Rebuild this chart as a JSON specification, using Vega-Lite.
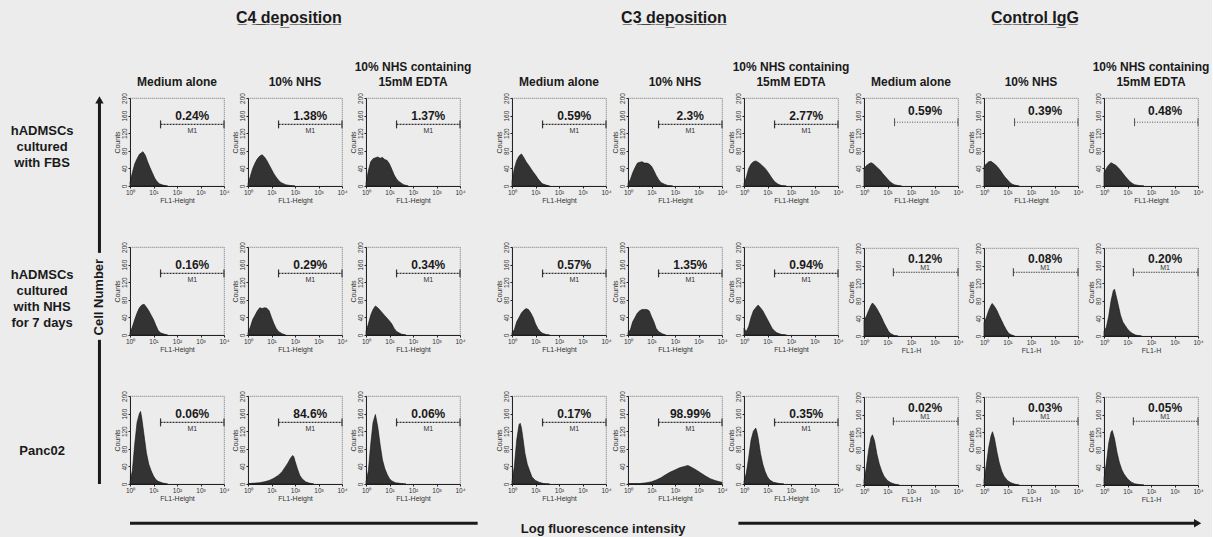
{
"$schema": "https://vega.github.io/schema/vega-lite/v6.json",
"background": "#ececec",
"padding": {"left": 10, "top": 10, "right": 2, "bottom": 2},
"config": {
  "font": "Liberation Sans",
  "view": {"stroke": "#555", "strokeDash": [1, 1], "strokeWidth": 0.8},
  "axis": {"grid": false, "labelFontSize": 6.5, "titleFontSize": 7, "titleFontWeight": "normal", "labelColor": "#333", "titleColor": "#333", "domainColor": "#222", "tickColor": "#222", "tickSize": 2, "labelPadding": 1, "titlePadding": 1, "labelOverlap": false, "labelFlush": false},
  "title": {"color": "#1a1a1a"}
},
"datasets": {
"C4": [
{"r":1,"c":"a","x":0,"y":8},{"r":1,"c":"a","x":0.1,"y":30},{"r":1,"c":"a","x":0.2,"y":50},{"r":1,"c":"a","x":0.3,"y":62},{"r":1,"c":"a","x":0.4,"y":72},{"r":1,"c":"a","x":0.55,"y":78},{"r":1,"c":"a","x":0.65,"y":70},{"r":1,"c":"a","x":0.75,"y":55},{"r":1,"c":"a","x":0.85,"y":42},{"r":1,"c":"a","x":0.95,"y":30},{"r":1,"c":"a","x":1.05,"y":18},{"r":1,"c":"a","x":1.15,"y":10},{"r":1,"c":"a","x":1.25,"y":5},{"r":1,"c":"a","x":1.4,"y":2},{"r":1,"c":"a","x":1.6,"y":0},
{"r":1,"c":"b","x":0,"y":5},{"r":1,"c":"b","x":0.1,"y":22},{"r":1,"c":"b","x":0.2,"y":40},{"r":1,"c":"b","x":0.3,"y":52},{"r":1,"c":"b","x":0.4,"y":62},{"r":1,"c":"b","x":0.5,"y":68},{"r":1,"c":"b","x":0.6,"y":71},{"r":1,"c":"b","x":0.7,"y":66},{"r":1,"c":"b","x":0.8,"y":58},{"r":1,"c":"b","x":0.9,"y":48},{"r":1,"c":"b","x":1.0,"y":38},{"r":1,"c":"b","x":1.1,"y":28},{"r":1,"c":"b","x":1.2,"y":20},{"r":1,"c":"b","x":1.3,"y":13},{"r":1,"c":"b","x":1.4,"y":8},{"r":1,"c":"b","x":1.6,"y":3},{"r":1,"c":"b","x":1.8,"y":1},{"r":1,"c":"b","x":2.0,"y":0},
{"r":1,"c":"e","x":0,"y":5},{"r":1,"c":"e","x":0.1,"y":35},{"r":1,"c":"e","x":0.2,"y":55},{"r":1,"c":"e","x":0.3,"y":62},{"r":1,"c":"e","x":0.4,"y":64},{"r":1,"c":"e","x":0.5,"y":66},{"r":1,"c":"e","x":0.6,"y":63},{"r":1,"c":"e","x":0.7,"y":65},{"r":1,"c":"e","x":0.8,"y":60},{"r":1,"c":"e","x":0.9,"y":58},{"r":1,"c":"e","x":1.0,"y":50},{"r":1,"c":"e","x":1.1,"y":38},{"r":1,"c":"e","x":1.2,"y":25},{"r":1,"c":"e","x":1.3,"y":16},{"r":1,"c":"e","x":1.4,"y":10},{"r":1,"c":"e","x":1.6,"y":3},{"r":1,"c":"e","x":1.8,"y":0},
{"r":2,"c":"a","x":0,"y":5},{"r":2,"c":"a","x":0.1,"y":18},{"r":2,"c":"a","x":0.2,"y":35},{"r":2,"c":"a","x":0.3,"y":50},{"r":2,"c":"a","x":0.4,"y":62},{"r":2,"c":"a","x":0.5,"y":68},{"r":2,"c":"a","x":0.6,"y":70},{"r":2,"c":"a","x":0.7,"y":63},{"r":2,"c":"a","x":0.8,"y":55},{"r":2,"c":"a","x":0.9,"y":45},{"r":2,"c":"a","x":1.0,"y":35},{"r":2,"c":"a","x":1.1,"y":22},{"r":2,"c":"a","x":1.2,"y":10},{"r":2,"c":"a","x":1.3,"y":5},{"r":2,"c":"a","x":1.45,"y":2},{"r":2,"c":"a","x":1.6,"y":0},
{"r":2,"c":"b","x":0,"y":5},{"r":2,"c":"b","x":0.1,"y":18},{"r":2,"c":"b","x":0.2,"y":35},{"r":2,"c":"b","x":0.3,"y":45},{"r":2,"c":"b","x":0.4,"y":55},{"r":2,"c":"b","x":0.5,"y":62},{"r":2,"c":"b","x":0.6,"y":60},{"r":2,"c":"b","x":0.7,"y":62},{"r":2,"c":"b","x":0.8,"y":61},{"r":2,"c":"b","x":0.9,"y":55},{"r":2,"c":"b","x":1.0,"y":40},{"r":2,"c":"b","x":1.1,"y":26},{"r":2,"c":"b","x":1.2,"y":15},{"r":2,"c":"b","x":1.3,"y":8},{"r":2,"c":"b","x":1.45,"y":3},{"r":2,"c":"b","x":1.6,"y":0},
{"r":2,"c":"e","x":0,"y":8},{"r":2,"c":"e","x":0.1,"y":25},{"r":2,"c":"e","x":0.2,"y":45},{"r":2,"c":"e","x":0.3,"y":58},{"r":2,"c":"e","x":0.4,"y":66},{"r":2,"c":"e","x":0.5,"y":62},{"r":2,"c":"e","x":0.6,"y":56},{"r":2,"c":"e","x":0.7,"y":50},{"r":2,"c":"e","x":0.8,"y":44},{"r":2,"c":"e","x":0.9,"y":38},{"r":2,"c":"e","x":1.0,"y":32},{"r":2,"c":"e","x":1.1,"y":25},{"r":2,"c":"e","x":1.2,"y":15},{"r":2,"c":"e","x":1.3,"y":8},{"r":2,"c":"e","x":1.5,"y":2},{"r":2,"c":"e","x":1.7,"y":0},
{"r":3,"c":"a","x":0,"y":5},{"r":3,"c":"a","x":0.1,"y":30},{"r":3,"c":"a","x":0.2,"y":90},{"r":3,"c":"a","x":0.3,"y":140},{"r":3,"c":"a","x":0.4,"y":160},{"r":3,"c":"a","x":0.45,"y":165},{"r":3,"c":"a","x":0.5,"y":150},{"r":3,"c":"a","x":0.55,"y":130},{"r":3,"c":"a","x":0.6,"y":110},{"r":3,"c":"a","x":0.7,"y":70},{"r":3,"c":"a","x":0.8,"y":45},{"r":3,"c":"a","x":0.9,"y":30},{"r":3,"c":"a","x":1.0,"y":18},{"r":3,"c":"a","x":1.1,"y":10},{"r":3,"c":"a","x":1.2,"y":6},{"r":3,"c":"a","x":1.4,"y":2},{"r":3,"c":"a","x":1.6,"y":0},
{"r":3,"c":"b","x":0,"y":1},{"r":3,"c":"b","x":0.3,"y":2},{"r":3,"c":"b","x":0.5,"y":3},{"r":3,"c":"b","x":0.7,"y":5},{"r":3,"c":"b","x":0.9,"y":8},{"r":3,"c":"b","x":1.1,"y":13},{"r":3,"c":"b","x":1.3,"y":20},{"r":3,"c":"b","x":1.45,"y":28},{"r":3,"c":"b","x":1.6,"y":40},{"r":3,"c":"b","x":1.7,"y":48},{"r":3,"c":"b","x":1.8,"y":58},{"r":3,"c":"b","x":1.9,"y":65},{"r":3,"c":"b","x":1.95,"y":62},{"r":3,"c":"b","x":2.0,"y":52},{"r":3,"c":"b","x":2.1,"y":35},{"r":3,"c":"b","x":2.2,"y":20},{"r":3,"c":"b","x":2.3,"y":12},{"r":3,"c":"b","x":2.45,"y":5},{"r":3,"c":"b","x":2.6,"y":2},{"r":3,"c":"b","x":2.8,"y":0},
{"r":3,"c":"e","x":0,"y":5},{"r":3,"c":"e","x":0.1,"y":30},{"r":3,"c":"e","x":0.2,"y":90},{"r":3,"c":"e","x":0.3,"y":140},{"r":3,"c":"e","x":0.4,"y":158},{"r":3,"c":"e","x":0.5,"y":130},{"r":3,"c":"e","x":0.6,"y":90},{"r":3,"c":"e","x":0.7,"y":55},{"r":3,"c":"e","x":0.8,"y":35},{"r":3,"c":"e","x":0.9,"y":22},{"r":3,"c":"e","x":1.0,"y":12},{"r":3,"c":"e","x":1.1,"y":7},{"r":3,"c":"e","x":1.25,"y":3},{"r":3,"c":"e","x":1.5,"y":1},{"r":3,"c":"e","x":1.7,"y":0},
{"r":1,"c":"a","p":"0.24%","m":"M1","lab":"hADMSCs\ncultured\nwith FBS"},{"r":1,"c":"b","p":"1.38%","m":"M1"},{"r":1,"c":"e","p":"1.37%","m":"M1"},
{"r":2,"c":"a","p":"0.16%","m":"M1","lab":"hADMSCs\ncultured\nwith NHS\nfor 7 days"},{"r":2,"c":"b","p":"0.29%","m":"M1"},{"r":2,"c":"e","p":"0.34%","m":"M1"},
{"r":3,"c":"a","p":"0.06%","m":"M1","lab":"Panc02"},{"r":3,"c":"b","p":"84.6%","m":"M1"},{"r":3,"c":"e","p":"0.06%","m":"M1"}
],
"C3": [
{"r":1,"c":"a","x":0,"y":10},{"r":1,"c":"a","x":0.1,"y":40},{"r":1,"c":"a","x":0.2,"y":58},{"r":1,"c":"a","x":0.3,"y":68},{"r":1,"c":"a","x":0.4,"y":73},{"r":1,"c":"a","x":0.5,"y":65},{"r":1,"c":"a","x":0.6,"y":55},{"r":1,"c":"a","x":0.7,"y":48},{"r":1,"c":"a","x":0.8,"y":40},{"r":1,"c":"a","x":0.9,"y":32},{"r":1,"c":"a","x":1.0,"y":25},{"r":1,"c":"a","x":1.1,"y":17},{"r":1,"c":"a","x":1.2,"y":10},{"r":1,"c":"a","x":1.3,"y":5},{"r":1,"c":"a","x":1.45,"y":2},{"r":1,"c":"a","x":1.6,"y":0},
{"r":1,"c":"b","x":0,"y":5},{"r":1,"c":"b","x":0.1,"y":15},{"r":1,"c":"b","x":0.2,"y":30},{"r":1,"c":"b","x":0.3,"y":42},{"r":1,"c":"b","x":0.4,"y":52},{"r":1,"c":"b","x":0.5,"y":54},{"r":1,"c":"b","x":0.6,"y":55},{"r":1,"c":"b","x":0.7,"y":52},{"r":1,"c":"b","x":0.8,"y":52},{"r":1,"c":"b","x":0.9,"y":50},{"r":1,"c":"b","x":1.0,"y":45},{"r":1,"c":"b","x":1.1,"y":35},{"r":1,"c":"b","x":1.2,"y":24},{"r":1,"c":"b","x":1.3,"y":15},{"r":1,"c":"b","x":1.4,"y":8},{"r":1,"c":"b","x":1.55,"y":4},{"r":1,"c":"b","x":1.7,"y":1},{"r":1,"c":"b","x":1.9,"y":0},
{"r":1,"c":"e","x":0,"y":5},{"r":1,"c":"e","x":0.1,"y":20},{"r":1,"c":"e","x":0.2,"y":40},{"r":1,"c":"e","x":0.3,"y":50},{"r":1,"c":"e","x":0.4,"y":55},{"r":1,"c":"e","x":0.5,"y":57},{"r":1,"c":"e","x":0.6,"y":54},{"r":1,"c":"e","x":0.7,"y":50},{"r":1,"c":"e","x":0.8,"y":45},{"r":1,"c":"e","x":0.9,"y":40},{"r":1,"c":"e","x":1.0,"y":33},{"r":1,"c":"e","x":1.1,"y":25},{"r":1,"c":"e","x":1.2,"y":17},{"r":1,"c":"e","x":1.3,"y":10},{"r":1,"c":"e","x":1.45,"y":4},{"r":1,"c":"e","x":1.6,"y":1},{"r":1,"c":"e","x":1.8,"y":0},
{"r":2,"c":"a","x":0,"y":5},{"r":2,"c":"a","x":0.1,"y":12},{"r":2,"c":"a","x":0.2,"y":30},{"r":2,"c":"a","x":0.3,"y":40},{"r":2,"c":"a","x":0.4,"y":50},{"r":2,"c":"a","x":0.5,"y":56},{"r":2,"c":"a","x":0.6,"y":60},{"r":2,"c":"a","x":0.7,"y":58},{"r":2,"c":"a","x":0.8,"y":50},{"r":2,"c":"a","x":0.9,"y":40},{"r":2,"c":"a","x":1.0,"y":25},{"r":2,"c":"a","x":1.1,"y":15},{"r":2,"c":"a","x":1.2,"y":8},{"r":2,"c":"a","x":1.3,"y":4},{"r":2,"c":"a","x":1.45,"y":1},{"r":2,"c":"a","x":1.6,"y":0},
{"r":2,"c":"b","x":0,"y":5},{"r":2,"c":"b","x":0.1,"y":12},{"r":2,"c":"b","x":0.2,"y":30},{"r":2,"c":"b","x":0.3,"y":40},{"r":2,"c":"b","x":0.4,"y":50},{"r":2,"c":"b","x":0.5,"y":55},{"r":2,"c":"b","x":0.6,"y":58},{"r":2,"c":"b","x":0.7,"y":58},{"r":2,"c":"b","x":0.8,"y":58},{"r":2,"c":"b","x":0.9,"y":55},{"r":2,"c":"b","x":1.0,"y":42},{"r":2,"c":"b","x":1.1,"y":30},{"r":2,"c":"b","x":1.2,"y":15},{"r":2,"c":"b","x":1.3,"y":8},{"r":2,"c":"b","x":1.45,"y":3},{"r":2,"c":"b","x":1.6,"y":0},
{"r":2,"c":"e","x":0,"y":15},{"r":2,"c":"e","x":0.1,"y":8},{"r":2,"c":"e","x":0.2,"y":20},{"r":2,"c":"e","x":0.3,"y":40},{"r":2,"c":"e","x":0.4,"y":55},{"r":2,"c":"e","x":0.5,"y":62},{"r":2,"c":"e","x":0.6,"y":68},{"r":2,"c":"e","x":0.7,"y":62},{"r":2,"c":"e","x":0.8,"y":55},{"r":2,"c":"e","x":0.9,"y":45},{"r":2,"c":"e","x":1.0,"y":35},{"r":2,"c":"e","x":1.1,"y":25},{"r":2,"c":"e","x":1.2,"y":15},{"r":2,"c":"e","x":1.3,"y":9},{"r":2,"c":"e","x":1.4,"y":5},{"r":2,"c":"e","x":1.6,"y":1},{"r":2,"c":"e","x":1.8,"y":0},
{"r":3,"c":"a","x":0,"y":5},{"r":3,"c":"a","x":0.1,"y":40},{"r":3,"c":"a","x":0.2,"y":100},{"r":3,"c":"a","x":0.3,"y":135},{"r":3,"c":"a","x":0.35,"y":138},{"r":3,"c":"a","x":0.4,"y":128},{"r":3,"c":"a","x":0.45,"y":110},{"r":3,"c":"a","x":0.55,"y":70},{"r":3,"c":"a","x":0.65,"y":45},{"r":3,"c":"a","x":0.75,"y":30},{"r":3,"c":"a","x":0.85,"y":16},{"r":3,"c":"a","x":1.0,"y":8},{"r":3,"c":"a","x":1.15,"y":4},{"r":3,"c":"a","x":1.35,"y":1},{"r":3,"c":"a","x":1.6,"y":0},
{"r":3,"c":"b","x":0,"y":1},{"r":3,"c":"b","x":0.5,"y":1},{"r":3,"c":"b","x":0.8,"y":3},{"r":3,"c":"b","x":1.0,"y":5},{"r":3,"c":"b","x":1.2,"y":9},{"r":3,"c":"b","x":1.4,"y":14},{"r":3,"c":"b","x":1.6,"y":21},{"r":3,"c":"b","x":1.8,"y":27},{"r":3,"c":"b","x":2.0,"y":32},{"r":3,"c":"b","x":2.2,"y":37},{"r":3,"c":"b","x":2.4,"y":40},{"r":3,"c":"b","x":2.55,"y":42},{"r":3,"c":"b","x":2.7,"y":38},{"r":3,"c":"b","x":2.9,"y":32},{"r":3,"c":"b","x":3.1,"y":25},{"r":3,"c":"b","x":3.3,"y":18},{"r":3,"c":"b","x":3.5,"y":12},{"r":3,"c":"b","x":3.7,"y":8},{"r":3,"c":"b","x":3.9,"y":5},{"r":3,"c":"b","x":4.0,"y":4},
{"r":3,"c":"e","x":0,"y":5},{"r":3,"c":"e","x":0.1,"y":25},{"r":3,"c":"e","x":0.2,"y":60},{"r":3,"c":"e","x":0.3,"y":100},{"r":3,"c":"e","x":0.4,"y":120},{"r":3,"c":"e","x":0.5,"y":127},{"r":3,"c":"e","x":0.55,"y":118},{"r":3,"c":"e","x":0.6,"y":105},{"r":3,"c":"e","x":0.7,"y":70},{"r":3,"c":"e","x":0.8,"y":45},{"r":3,"c":"e","x":0.9,"y":28},{"r":3,"c":"e","x":1.0,"y":16},{"r":3,"c":"e","x":1.1,"y":9},{"r":3,"c":"e","x":1.25,"y":4},{"r":3,"c":"e","x":1.5,"y":1},{"r":3,"c":"e","x":1.7,"y":0},
{"r":1,"c":"a","p":"0.59%","m":"M1"},{"r":1,"c":"b","p":"2.3%","m":"M1"},{"r":1,"c":"e","p":"2.77%","m":"M1"},
{"r":2,"c":"a","p":"0.57%","m":"M1"},{"r":2,"c":"b","p":"1.35%","m":"M1"},{"r":2,"c":"e","p":"0.94%","m":"M1"},
{"r":3,"c":"a","p":"0.17%","m":"M1"},{"r":3,"c":"b","p":"98.99%","m":"M1"},{"r":3,"c":"e","p":"0.35%","m":"M1"}
],
"IG": [
{"r":1,"c":"a","x":0,"y":40},{"r":1,"c":"a","x":0.1,"y":46},{"r":1,"c":"a","x":0.2,"y":50},{"r":1,"c":"a","x":0.3,"y":53},{"r":1,"c":"a","x":0.4,"y":50},{"r":1,"c":"a","x":0.5,"y":45},{"r":1,"c":"a","x":0.6,"y":40},{"r":1,"c":"a","x":0.7,"y":35},{"r":1,"c":"a","x":0.8,"y":28},{"r":1,"c":"a","x":0.9,"y":22},{"r":1,"c":"a","x":1.0,"y":16},{"r":1,"c":"a","x":1.1,"y":10},{"r":1,"c":"a","x":1.2,"y":6},{"r":1,"c":"a","x":1.3,"y":3},{"r":1,"c":"a","x":1.45,"y":1},{"r":1,"c":"a","x":1.6,"y":0},
{"r":1,"c":"b","x":0,"y":45},{"r":1,"c":"b","x":0.1,"y":50},{"r":1,"c":"b","x":0.2,"y":55},{"r":1,"c":"b","x":0.3,"y":56},{"r":1,"c":"b","x":0.4,"y":52},{"r":1,"c":"b","x":0.5,"y":48},{"r":1,"c":"b","x":0.6,"y":42},{"r":1,"c":"b","x":0.7,"y":35},{"r":1,"c":"b","x":0.8,"y":27},{"r":1,"c":"b","x":0.9,"y":20},{"r":1,"c":"b","x":1.0,"y":14},{"r":1,"c":"b","x":1.1,"y":8},{"r":1,"c":"b","x":1.2,"y":4},{"r":1,"c":"b","x":1.3,"y":2},{"r":1,"c":"b","x":1.5,"y":0},
{"r":1,"c":"e","x":0,"y":30},{"r":1,"c":"e","x":0.1,"y":40},{"r":1,"c":"e","x":0.2,"y":48},{"r":1,"c":"e","x":0.3,"y":53},{"r":1,"c":"e","x":0.4,"y":50},{"r":1,"c":"e","x":0.5,"y":47},{"r":1,"c":"e","x":0.6,"y":42},{"r":1,"c":"e","x":0.7,"y":36},{"r":1,"c":"e","x":0.8,"y":29},{"r":1,"c":"e","x":0.9,"y":22},{"r":1,"c":"e","x":1.0,"y":16},{"r":1,"c":"e","x":1.1,"y":10},{"r":1,"c":"e","x":1.2,"y":6},{"r":1,"c":"e","x":1.3,"y":3},{"r":1,"c":"e","x":1.5,"y":1},{"r":1,"c":"e","x":1.7,"y":0},
{"r":2,"c":"a","x":0,"y":35},{"r":2,"c":"a","x":0.1,"y":45},{"r":2,"c":"a","x":0.2,"y":58},{"r":2,"c":"a","x":0.3,"y":70},{"r":2,"c":"a","x":0.36,"y":75},{"r":2,"c":"a","x":0.45,"y":70},{"r":2,"c":"a","x":0.55,"y":62},{"r":2,"c":"a","x":0.65,"y":52},{"r":2,"c":"a","x":0.75,"y":42},{"r":2,"c":"a","x":0.85,"y":30},{"r":2,"c":"a","x":0.95,"y":20},{"r":2,"c":"a","x":1.05,"y":10},{"r":2,"c":"a","x":1.15,"y":5},{"r":2,"c":"a","x":1.3,"y":1},{"r":2,"c":"a","x":1.45,"y":0},
{"r":2,"c":"b","x":0,"y":30},{"r":2,"c":"b","x":0.1,"y":42},{"r":2,"c":"b","x":0.2,"y":58},{"r":2,"c":"b","x":0.3,"y":70},{"r":2,"c":"b","x":0.35,"y":74},{"r":2,"c":"b","x":0.45,"y":67},{"r":2,"c":"b","x":0.55,"y":58},{"r":2,"c":"b","x":0.65,"y":46},{"r":2,"c":"b","x":0.75,"y":35},{"r":2,"c":"b","x":0.85,"y":24},{"r":2,"c":"b","x":0.95,"y":14},{"r":2,"c":"b","x":1.05,"y":6},{"r":2,"c":"b","x":1.15,"y":3},{"r":2,"c":"b","x":1.3,"y":0},
{"r":2,"c":"e","x":0,"y":10},{"r":2,"c":"e","x":0.1,"y":20},{"r":2,"c":"e","x":0.2,"y":45},{"r":2,"c":"e","x":0.3,"y":80},{"r":2,"c":"e","x":0.4,"y":104},{"r":2,"c":"e","x":0.45,"y":106},{"r":2,"c":"e","x":0.5,"y":95},{"r":2,"c":"e","x":0.6,"y":72},{"r":2,"c":"e","x":0.7,"y":48},{"r":2,"c":"e","x":0.8,"y":32},{"r":2,"c":"e","x":0.9,"y":24},{"r":2,"c":"e","x":1.0,"y":16},{"r":2,"c":"e","x":1.1,"y":10},{"r":2,"c":"e","x":1.2,"y":6},{"r":2,"c":"e","x":1.35,"y":2},{"r":2,"c":"e","x":1.6,"y":0},
{"r":3,"c":"a","x":0,"y":10},{"r":3,"c":"a","x":0.1,"y":40},{"r":3,"c":"a","x":0.2,"y":80},{"r":3,"c":"a","x":0.3,"y":108},{"r":3,"c":"a","x":0.36,"y":114},{"r":3,"c":"a","x":0.45,"y":100},{"r":3,"c":"a","x":0.55,"y":70},{"r":3,"c":"a","x":0.65,"y":48},{"r":3,"c":"a","x":0.75,"y":32},{"r":3,"c":"a","x":0.85,"y":20},{"r":3,"c":"a","x":1.0,"y":10},{"r":3,"c":"a","x":1.15,"y":5},{"r":3,"c":"a","x":1.3,"y":2},{"r":3,"c":"a","x":1.5,"y":0},
{"r":3,"c":"b","x":0,"y":10},{"r":3,"c":"b","x":0.1,"y":45},{"r":3,"c":"b","x":0.2,"y":85},{"r":3,"c":"b","x":0.3,"y":112},{"r":3,"c":"b","x":0.36,"y":121},{"r":3,"c":"b","x":0.45,"y":105},{"r":3,"c":"b","x":0.55,"y":75},{"r":3,"c":"b","x":0.65,"y":50},{"r":3,"c":"b","x":0.75,"y":32},{"r":3,"c":"b","x":0.85,"y":20},{"r":3,"c":"b","x":1.0,"y":10},{"r":3,"c":"b","x":1.15,"y":5},{"r":3,"c":"b","x":1.3,"y":2},{"r":3,"c":"b","x":1.5,"y":0},
{"r":3,"c":"e","x":0,"y":15},{"r":3,"c":"e","x":0.1,"y":50},{"r":3,"c":"e","x":0.2,"y":95},{"r":3,"c":"e","x":0.3,"y":120},{"r":3,"c":"e","x":0.35,"y":124},{"r":3,"c":"e","x":0.45,"y":105},{"r":3,"c":"e","x":0.55,"y":75},{"r":3,"c":"e","x":0.65,"y":52},{"r":3,"c":"e","x":0.75,"y":36},{"r":3,"c":"e","x":0.85,"y":25},{"r":3,"c":"e","x":1.0,"y":14},{"r":3,"c":"e","x":1.15,"y":7},{"r":3,"c":"e","x":1.3,"y":3},{"r":3,"c":"e","x":1.5,"y":1},{"r":3,"c":"e","x":1.7,"y":0},
{"r":1,"c":"a","p":"0.59%","m":""},{"r":1,"c":"b","p":"0.39%","m":""},{"r":1,"c":"e","p":"0.48%","m":""},
{"r":2,"c":"a","p":"0.12%","m":"M1"},{"r":2,"c":"b","p":"0.08%","m":"M1"},{"r":2,"c":"e","p":"0.20%","m":"M1"},
{"r":3,"c":"a","p":"0.02%","m":"M1"},{"r":3,"c":"b","p":"0.03%","m":"M1"},{"r":3,"c":"e","p":"0.05%","m":"M1"}
]
},
"vconcat": [
{
"spacing": 22,
"hconcat": [
{
  "data": {"name": "C4"},
  "bounds": "flush",
  "spacing": {"row": 61, "column": 24},
  "title": {"text": "C̲4̲ ̲d̲e̲p̲o̲s̲i̲t̲i̲o̲n̲", "anchor": "middle", "fontSize": 16, "fontWeight": "bold", "offset": 35, "dx": 48},
  "facet": {
    "row": {"field": "r", "type": "ordinal", "header": null},
    "column": {"field": "c", "type": "nominal", "header": {"title": null, "labelExpr": "datum.value == 'a' ? 'Medium alone' : datum.value == 'b' ? '10% NHS' : ['10% NHS containing','15mM EDTA']", "labelFontSize": 12, "labelFontWeight": "bold", "labelColor": "#1a1a1a", "labelBaseline": "bottom", "labelLineHeight": 15, "labelPadding": -3, "labelLimit": 0}}
  },
  "resolve": {"axis": {"x": "independent", "y": "independent"}},
  "spec": {
    "width": 94, "height": 88,
    "layer": [
      {"transform": [{"filter": "isValid(datum.y)"}], "mark": {"type": "area", "color": "#333", "stroke": "#111", "strokeWidth": 0.6},
       "encoding": {"x": {"field": "x", "type": "quantitative", "scale": {"domain": [0, 4]}, "axis": {"values": [0,1,2,3,4], "tickCount": 10, "labelOverlap": false, "labelExpr": "'10' + ['⁰','¹','²','³','⁴'][datum.value]", "title": "FL1-Height"}},
                    "y": {"field": "y", "type": "quantitative", "scale": {"domain": [0, 200]}, "axis": {"values": [0,40,80,120,160,200], "tickCount": 10, "labelOverlap": false, "labelAngle": -90, "labelAlign": "center", "labelBaseline": "bottom", "title": "Counts"}}}},
      {"transform": [{"filter": "isValid(datum.p)"}], "mark": {"type": "rule", "color": "#333", "strokeWidth": 1.2, "strokeDash": [2, 1]}, "encoding": {"x": {"datum": 1.3}, "x2": {"datum": 4}, "y": {"datum": 140}}},
      {"transform": [{"filter": "isValid(datum.p)"}], "mark": {"type": "rule", "color": "#333", "strokeWidth": 1.2}, "encoding": {"x": {"datum": 1.3}, "y": {"datum": 131}, "y2": {"datum": 149}}},
      {"transform": [{"filter": "isValid(datum.p)"}], "mark": {"type": "rule", "color": "#333", "strokeWidth": 1.2}, "encoding": {"x": {"datum": 4}, "y": {"datum": 131}, "y2": {"datum": 149}}},
      {"transform": [{"filter": "isValid(datum.p)"}], "mark": {"type": "text", "fontSize": 12, "fontWeight": "bold", "color": "#1a1a1a"}, "encoding": {"x": {"datum": 2.65}, "y": {"datum": 160}, "text": {"field": "p"}}},
      {"transform": [{"filter": "isValid(datum.p)"}], "mark": {"type": "text", "fontSize": 7, "color": "#333"}, "encoding": {"x": {"datum": 2.65}, "y": {"datum": 126}, "text": {"field": "m"}}},
      {"transform": [{"filter": "datum.c == 'a' && datum.r == 1 && isValid(datum.p)"}], "mark": {"type": "text", "fontSize": 13, "fontWeight": "bold", "color": "#1a1a1a", "align": "center", "baseline": "top", "lineBreak": "\n", "lineHeight": 16}, "encoding": {"x": {"datum": -3.74}, "y": {"datum": 139}, "text": {"field": "lab"}}},
      {"transform": [{"filter": "datum.c == 'a' && datum.r == 2 && isValid(datum.p)"}], "mark": {"type": "text", "fontSize": 13, "fontWeight": "bold", "color": "#1a1a1a", "align": "center", "baseline": "top", "lineBreak": "\n", "lineHeight": 16}, "encoding": {"x": {"datum": -3.74}, "y": {"datum": 150}, "text": {"field": "lab"}}},
      {"transform": [{"filter": "datum.c == 'a' && datum.r == 3 && isValid(datum.p)"}], "mark": {"type": "text", "fontSize": 13, "fontWeight": "bold", "color": "#1a1a1a", "align": "center", "baseline": "top", "lineBreak": "\n", "lineHeight": 16}, "encoding": {"x": {"datum": -3.74}, "y": {"datum": 89}, "text": {"field": "lab"}}},
      {"transform": [{"filter": "datum.c == 'a' && datum.r == 1 && isValid(datum.p)"}], "mark": {"type": "rule", "color": "#1a1a1a", "strokeWidth": 3}, "encoding": {"x": {"datum": -1.3}, "y": {"datum": 192}, "y2": {"datum": -152}}},
      {"transform": [{"filter": "datum.c == 'a' && datum.r == 1 && isValid(datum.p)"}], "mark": {"type": "point", "shape": "triangle-up", "filled": true, "size": 70, "color": "#1a1a1a", "opacity": 1}, "encoding": {"x": {"datum": -1.3}, "y": {"datum": 196}}},
      {"transform": [{"filter": "datum.c == 'a' && datum.r == 2 && isValid(datum.p)"}], "mark": {"type": "text", "angle": 270, "fontSize": 13, "fontWeight": "bold", "color": "#1a1a1a", "align": "center", "baseline": "middle"}, "encoding": {"x": {"datum": -1.3}, "y": {"datum": 86}, "text": {"value": "Cell Number"}}},
      {"transform": [{"filter": "datum.c == 'a' && datum.r == 2 && isValid(datum.p)"}], "mark": {"type": "rule", "color": "#1a1a1a", "strokeWidth": 3}, "encoding": {"x": {"datum": -1.3}, "y": {"datum": -11}, "y2": {"datum": -70}}},
      {"transform": [{"filter": "datum.c == 'a' && datum.r == 3 && isValid(datum.p)"}], "mark": {"type": "rule", "color": "#1a1a1a", "strokeWidth": 3}, "encoding": {"x": {"datum": -1.3}, "y": {"datum": 270}, "y2": {"datum": 0}}}
    ]
  }
},
{
"spacing": -4,
"hconcat": [
{
  "data": {"name": "C3"},
  "bounds": "flush",
  "spacing": {"row": 61, "column": 22},
  "title": {"text": "C̲3̲ ̲d̲e̲p̲o̲s̲i̲t̲i̲o̲n̲", "anchor": "middle", "fontSize": 16, "fontWeight": "bold", "offset": 35, "dx": 2},
  "facet": {
    "row": {"field": "r", "type": "ordinal", "header": null},
    "column": {"field": "c", "type": "nominal", "header": {"title": null, "labelExpr": "datum.value == 'a' ? 'Medium alone' : datum.value == 'b' ? '10% NHS' : ['10% NHS containing','15mM EDTA']", "labelFontSize": 12, "labelFontWeight": "bold", "labelColor": "#1a1a1a", "labelBaseline": "bottom", "labelLineHeight": 15, "labelPadding": -3, "labelLimit": 0}}
  },
  "resolve": {"axis": {"x": "independent", "y": "independent"}},
  "spec": {
    "width": 94, "height": 88,
    "layer": [
      {"transform": [{"filter": "isValid(datum.y)"}], "mark": {"type": "area", "color": "#333", "stroke": "#111", "strokeWidth": 0.6},
       "encoding": {"x": {"field": "x", "type": "quantitative", "scale": {"domain": [0, 4]}, "axis": {"values": [0,1,2,3,4], "tickCount": 10, "labelOverlap": false, "labelExpr": "'10' + ['⁰','¹','²','³','⁴'][datum.value]", "title": "FL1-Height"}},
                    "y": {"field": "y", "type": "quantitative", "scale": {"domain": [0, 200]}, "axis": {"values": [0,40,80,120,160,200], "tickCount": 10, "labelOverlap": false, "labelAngle": -90, "labelAlign": "center", "labelBaseline": "bottom", "title": "Counts"}}}},
      {"transform": [{"filter": "isValid(datum.p)"}], "mark": {"type": "rule", "color": "#333", "strokeWidth": 1.2, "strokeDash": [2, 1]}, "encoding": {"x": {"datum": 1.3}, "x2": {"datum": 4}, "y": {"datum": 140}}},
      {"transform": [{"filter": "isValid(datum.p)"}], "mark": {"type": "rule", "color": "#333", "strokeWidth": 1.2}, "encoding": {"x": {"datum": 1.3}, "y": {"datum": 131}, "y2": {"datum": 149}}},
      {"transform": [{"filter": "isValid(datum.p)"}], "mark": {"type": "rule", "color": "#333", "strokeWidth": 1.2}, "encoding": {"x": {"datum": 4}, "y": {"datum": 131}, "y2": {"datum": 149}}},
      {"transform": [{"filter": "isValid(datum.p)"}], "mark": {"type": "text", "fontSize": 12, "fontWeight": "bold", "color": "#1a1a1a"}, "encoding": {"x": {"datum": 2.65}, "y": {"datum": 160}, "text": {"field": "p"}}},
      {"transform": [{"filter": "isValid(datum.p)"}], "mark": {"type": "text", "fontSize": 7, "color": "#333"}, "encoding": {"x": {"datum": 2.65}, "y": {"datum": 126}, "text": {"field": "m"}}}
    ]
  }
},
{
"spacing": 38,
"vconcat": [
{
  "data": {"name": "IG"},
  "transform": [{"filter": "datum.r == 1"}],
  "bounds": "flush",
  "spacing": {"column": 26},
  "title": {"text": "C̲o̲n̲t̲r̲o̲l̲ ̲I̲g̲G̲", "anchor": "middle", "fontSize": 16, "fontWeight": "bold", "offset": 35, "dx": 7},
  "facet": {
    "column": {"field": "c", "type": "nominal", "header": {"title": null, "labelExpr": "datum.value == 'a' ? 'Medium alone' : datum.value == 'b' ? '10% NHS' : ['10% NHS containing','15mM EDTA']", "labelFontSize": 12, "labelFontWeight": "bold", "labelColor": "#1a1a1a", "labelBaseline": "bottom", "labelLineHeight": 15, "labelPadding": -3, "labelLimit": 0}}
  },
  "resolve": {"axis": {"x": "independent", "y": "independent"}},
  "spec": {
    "width": 94, "height": 88,
    "layer": [
      {"transform": [{"filter": "isValid(datum.y)"}], "mark": {"type": "area", "color": "#333", "stroke": "#111", "strokeWidth": 0.6},
       "encoding": {"x": {"field": "x", "type": "quantitative", "scale": {"domain": [0, 4]}, "axis": {"values": [0,1,2,3,4], "tickCount": 10, "labelOverlap": false, "labelExpr": "'10' + ['⁰','¹','²','³','⁴'][datum.value]", "title": "FL1-Height"}},
                    "y": {"field": "y", "type": "quantitative", "scale": {"domain": [0, 200]}, "axis": {"values": [0,40,80,120,160,200], "tickCount": 10, "labelOverlap": false, "labelAngle": -90, "labelAlign": "center", "labelBaseline": "bottom", "title": "Counts"}}}},
      {"transform": [{"filter": "isValid(datum.p)"}], "mark": {"type": "rule", "color": "#555", "strokeWidth": 1, "strokeDash": [1, 1.5]}, "encoding": {"x": {"datum": 1.3}, "x2": {"datum": 4}, "y": {"datum": 145}}},
      {"transform": [{"filter": "isValid(datum.p)"}], "mark": {"type": "rule", "color": "#555", "strokeWidth": 1}, "encoding": {"x": {"datum": 1.3}, "y": {"datum": 136}, "y2": {"datum": 154}}},
      {"transform": [{"filter": "isValid(datum.p)"}], "mark": {"type": "rule", "color": "#555", "strokeWidth": 1}, "encoding": {"x": {"datum": 4}, "y": {"datum": 136}, "y2": {"datum": 154}}},
      {"transform": [{"filter": "isValid(datum.p)"}], "mark": {"type": "text", "fontSize": 12, "fontWeight": "bold", "color": "#1a1a1a"}, "encoding": {"x": {"datum": 2.6}, "y": {"datum": 170}, "text": {"field": "p"}}}
    ]
  }
},
{
  "data": {"name": "IG"},
  "transform": [{"filter": "datum.r >= 2"}],
  "bounds": "flush",
  "spacing": {"row": 61, "column": 26},
  "facet": {
    "row": {"field": "r", "type": "ordinal", "header": null},
    "column": {"field": "c", "type": "nominal", "header": null}
  },
  "resolve": {"axis": {"x": "independent", "y": "independent"}},
  "spec": {
    "width": 94, "height": 88,
    "layer": [
      {"transform": [{"filter": "isValid(datum.y)"}], "mark": {"type": "area", "color": "#333", "stroke": "#111", "strokeWidth": 0.6},
       "encoding": {"x": {"field": "x", "type": "quantitative", "scale": {"domain": [0, 4]}, "axis": {"values": [0,1,2,3,4], "tickCount": 10, "labelOverlap": false, "labelExpr": "'10' + ['⁰','¹','²','³','⁴'][datum.value]", "title": "FL1-H"}},
                    "y": {"field": "y", "type": "quantitative", "scale": {"domain": [0, 200]}, "axis": {"values": [0,40,80,120,160,200], "tickCount": 10, "labelOverlap": false, "labelAngle": -90, "labelAlign": "center", "labelBaseline": "bottom", "title": "Counts"}}}},
      {"transform": [{"filter": "isValid(datum.p)"}], "mark": {"type": "rule", "color": "#444", "strokeWidth": 1.1, "strokeDash": [1.5, 1]}, "encoding": {"x": {"datum": 1.25}, "x2": {"datum": 4}, "y": {"datum": 145}}},
      {"transform": [{"filter": "isValid(datum.p)"}], "mark": {"type": "rule", "color": "#444", "strokeWidth": 1.1}, "encoding": {"x": {"datum": 1.25}, "y": {"datum": 136}, "y2": {"datum": 154}}},
      {"transform": [{"filter": "isValid(datum.p)"}], "mark": {"type": "rule", "color": "#444", "strokeWidth": 1.1}, "encoding": {"x": {"datum": 4}, "y": {"datum": 136}, "y2": {"datum": 154}}},
      {"transform": [{"filter": "isValid(datum.p)"}], "mark": {"type": "text", "fontSize": 12, "fontWeight": "bold", "color": "#1a1a1a"}, "encoding": {"x": {"datum": 2.6}, "y": {"datum": 174}, "text": {"field": "p"}}},
      {"transform": [{"filter": "isValid(datum.p)"}], "mark": {"type": "text", "fontSize": 7, "color": "#333"}, "encoding": {"x": {"datum": 2.6}, "y": {"datum": 154}, "text": {"field": "m"}}}
    ]
  }
}
]
}
]
}
]
},
{
  "width": 1073, "height": 14,
  "data": {"values": [{"t": "Log fluorescence intensity"}]},
  "view": {"stroke": null},
  "layer": [
    {"mark": {"type": "rule", "color": "#1a1a1a", "strokeWidth": 3}, "encoding": {"x": {"datum": 0, "type": "quantitative", "scale": {"domain": [0, 1]}, "axis": null}, "x2": {"datum": 0.324}, "y": {"datum": 0.55, "type": "quantitative", "scale": {"domain": [0, 1]}, "axis": null}}},
    {"mark": {"type": "rule", "color": "#1a1a1a", "strokeWidth": 3}, "encoding": {"x": {"datum": 0.567}, "x2": {"datum": 0.992}, "y": {"datum": 0.55}}},
    {"mark": {"type": "point", "shape": "triangle-right", "filled": true, "size": 70, "color": "#1a1a1a", "opacity": 1}, "encoding": {"x": {"datum": 0.995}, "y": {"datum": 0.55}}},
    {"mark": {"type": "text", "fontSize": 13, "fontWeight": "bold", "color": "#1a1a1a"}, "encoding": {"x": {"datum": 0.441}, "y": {"datum": 0.15}, "text": {"field": "t"}}}
  ]
}
],
"spacing": 14
}
